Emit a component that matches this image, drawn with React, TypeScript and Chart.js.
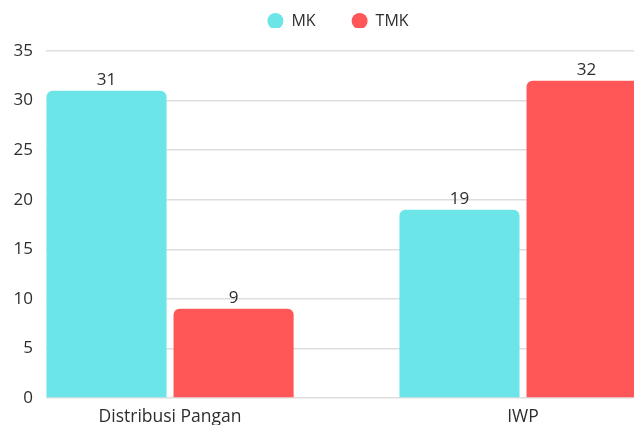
import React, { useEffect, useRef } from "react";
import { Chart, registerables } from "chart.js";

Chart.register(...registerables);

const categories = ["Distribusi Pangan", "IWP"];
const seriesNames = ["MK", "TMK"];
const mkValues = [31, 19];
const tmkValues = [9, 32];
const yTicks = [0, 5, 10, 15, 20, 25, 30, 35];

const COLORS = ["#6CE5E8", "#FF5757"];
const TEXT = "#2e2e2e";
const FONT = "'Open Sans', 'Noto Sans', sans-serif";

const dataLabels = {
  id: "dataLabels",
  afterDatasetsDraw(chart: any) {
    const ctx = chart.ctx;
    ctx.save();
    ctx.font = `17px ${FONT}`;
    ctx.fillStyle = TEXT;
    ctx.textAlign = "center";
    ctx.textBaseline = "alphabetic";
    chart.data.datasets.forEach((ds: any, di: number) => {
      const meta = chart.getDatasetMeta(di);
      meta.data.forEach((el: any, i: number) => {
        const v = ds.data[i].y;
        ctx.fillText(String(v), el.x, el.y - 6);
      });
    });
    ctx.restore();
  },
};

const legendShift = {
  id: "legendShift",
  afterLayout(chart: any) {
    const lg = chart.legend;
    if (lg) {
      lg.top -= 23;
      lg.bottom -= 23;
      lg.left -= 2;
      lg.right -= 2;
    }
  },
};

export default function App() {
  const ref = useRef<HTMLCanvasElement>(null);
  useEffect(() => {
    if (!ref.current) return;
    const chart = new Chart(ref.current, {
      type: "bar",
      data: {
        datasets: [
          {
            label: seriesNames[0],
            data: mkValues.map((v, i) => ({ x: i, y: v })),
            backgroundColor: COLORS[0],
            borderWidth: 0,
            borderRadius: 6,
            borderSkipped: "start",
          },
          {
            label: seriesNames[1],
            data: tmkValues.map((v, i) => ({ x: i, y: v })),
            backgroundColor: COLORS[1],
            borderWidth: 0,
            borderRadius: 6,
            borderSkipped: "start",
          },
        ],
      },
      options: {
        animation: false,
        responsive: true,
        maintainAspectRatio: false,
        layout: { padding: { left: 0.6, right: 0, top: 0, bottom: -12 } },
        datasets: {
          bar: { categoryPercentage: 0.72, barPercentage: 0.945 },
        },
        plugins: {
          legend: {
            position: "top",
            fullSize: false,
            maxHeight: 51,
            labels: {
              usePointStyle: true,
              pointStyle: "circle",
              boxHeight: 11.32,
              pointStyleWidth: 16,
              padding: 36,
              color: TEXT,
              font: { family: FONT, size: 16 },
            },
          },
          tooltip: { enabled: false },
        },
        scales: {
          x: {
            type: "linear",
            min: -0.3513,
            max: 1.3144,
            offset: false,
            grid: { display: false, drawTicks: false },
            border: { display: false },
            afterBuildTicks(scale: any) {
              scale.ticks = categories.map((_, i) => ({ value: i }));
            },
            afterFit(scale: any) {
              scale.paddingLeft = 0;
              scale.paddingRight = 0;
            },
            ticks: {
              autoSkip: false,
              maxRotation: 0,
              padding: 9,
              color: TEXT,
              font: { family: FONT, size: 17.5 },
              callback: (v: any) => categories[v as number] ?? "",
            },
          },
          y: {
            min: 0,
            max: 35,
            afterBuildTicks(scale: any) {
              scale.ticks = yTicks.map((v) => ({ value: v }));
            },
            grid: { color: "#dedede", lineWidth: 1.5, drawTicks: false },
            border: { display: false },
            ticks: {
              padding: 13,
              color: TEXT,
              font: { family: FONT, size: 17 },
            },
          },
        },
      },
      plugins: [dataLabels, legendShift],
    });
    return () => chart.destroy();
  }, []);
  return (
    <div style={{ position: "fixed", left: 0, top: 0, width: 634, height: 425, background: "#fff" }}>
      <canvas ref={ref} />
    </div>
  );
}
